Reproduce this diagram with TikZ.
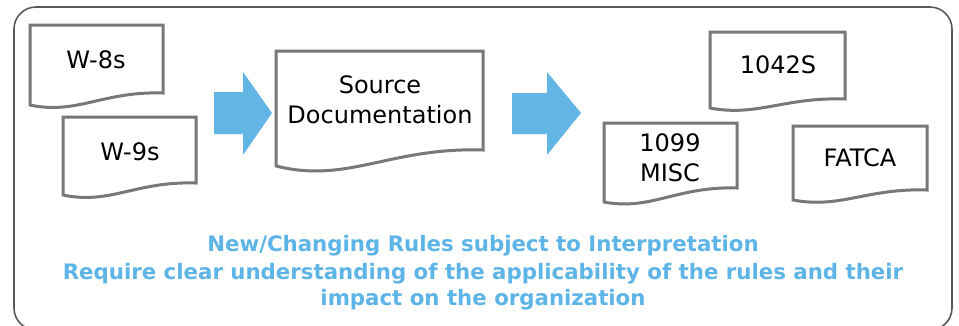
\documentclass[tikz,border=0pt]{standalone}
\usepackage{fontspec}
\setmainfont{DejaVu Sans}
\definecolor{docgray}{HTML}{76787B}
\definecolor{framegray}{HTML}{58595B}
\definecolor{arrowblue}{HTML}{62B5E5}
\definecolor{textblue}{HTML}{5DB4E6}
\begin{document}
\begin{tikzpicture}[x=1pt,y=-1pt,
  docline/.style={draw=docgray,line width=3pt,fill=white,line join=miter},
  doclabel/.style={font=\fontsize{24}{30.5}\selectfont,align=center,inner sep=0pt,text=black},
  blockarrow/.style={fill=arrowblue,draw=none},
  note/.style={font=\fontsize{21.3}{27}\selectfont\bfseries,text=textblue,align=center,inner sep=0pt}]
\useasboundingbox (0,0) rectangle (959,325);
% frame
\draw[framegray,line width=1.6pt,rounded corners=22pt] (14,7) rectangle (952,330);
% documents
\draw[docline] (30,25) -- (163,25) -- (163,93) .. controls (103,91) and (77,115) .. (30,105) -- cycle;
\node[doclabel] (w8) at (96,60) {W-8s};
\draw[docline] (63,117) -- (196,117) -- (196,183) .. controls (136,181) and (110,205) .. (63,195) -- cycle;
\node[doclabel] (w9) at (130,152) {W-9s};
\draw[docline] (276,51) -- (483,51) -- (483,150) .. controls (390,147) and (348,184) .. (276,166) -- cycle;
\node[doclabel] (sd) at (380,100) {Source\\Documentation};
\draw[docline] (710,32) -- (845,32) -- (845,99) .. controls (784,97) and (757,117) .. (710,108) -- cycle;
\node[doclabel] (f1042) at (778,65) {1042S};
\draw[docline] (604,123) -- (737,123) -- (737,188) .. controls (677,186) and (651,211) .. (604,202) -- cycle;
\node[doclabel] (f1099) at (670,158) {1099\\MISC};
\draw[docline] (793,126) -- (927,126) -- (927,190) .. controls (867,188) and (840,209) .. (793,200) -- cycle;
\node[doclabel] (fatca) at (860,158) {FATCA};
% block arrows
\fill[blockarrow] (214,92) -- (243,92) -- (243,72) -- (272,113) -- (243,155) -- (243,134) -- (214,134) -- cycle;
\fill[blockarrow] (512,93) -- (547,93) -- (547,72) -- (581,113) -- (547,155) -- (547,134) -- (512,134) -- cycle;
% note
\node[note] (n1) at (483,246) {New/Changing Rules subject to Interpretation};
\node[note] (n2) at (483,274) {Require clear understanding of the applicability of the rules and their};
\node[note] (n3) at (483,300) {impact on the organization};
\end{tikzpicture}
\end{document}
